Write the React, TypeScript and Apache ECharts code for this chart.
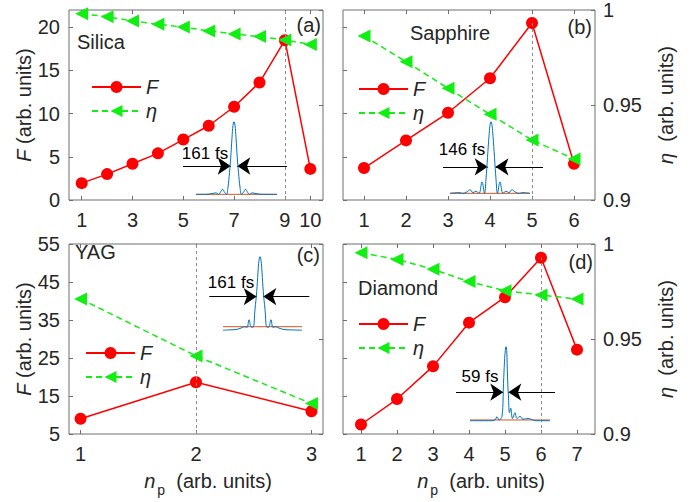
import React, { useEffect, useRef } from 'react';
import * as echarts from 'echarts';

// ---------- data ----------
const nSilica = [1, 2, 3, 4, 5, 6, 7, 8, 9, 10];
const fSilica = [1.95, 3.0, 4.2, 5.4, 7.0, 8.6, 10.8, 13.6, 18.5, 3.6];
const etaSilica = [0.998, 0.9965, 0.9942, 0.9925, 0.991, 0.989, 0.9874, 0.986, 0.9842, 0.9819];

const nSapphire = [1, 2, 3, 4, 5, 6];
const fSapphire = [3.7, 6.9, 10.1, 14.1, 20.5, 4.2];
const etaSapphire = [0.9863, 0.9728, 0.9588, 0.9451, 0.9316, 0.9216];

const nYag = [1, 2, 3];
const fYag = [9.0, 18.6, 11.0];
const etaYag = [0.9711, 0.9411, 0.916];

const nDiamond = [1, 2, 3, 4, 5, 6, 7];
const fDiamond = [7.5, 14.2, 22.8, 34.3, 41.0, 51.4, 27.2];
const etaDiamond = [0.9954, 0.9919, 0.9867, 0.9802, 0.9754, 0.9732, 0.971];

const xTicksSilica = [1, 3, 5, 7, 9, 10];
const xTicksSapphire = [1, 2, 3, 4, 5, 6];
const xTicksYag = [1, 2, 3];
const xTicksDiamond = [1, 2, 3, 4, 5, 6, 7];
const fTicksTop = [0, 5, 10, 15, 20];
const fTicksBottom = [5, 15, 25, 35, 45, 55];
const etaTicks = [0.9, 0.95, 1];

// inset pulses (time relative to peak, normalized intensity)
const pulseSilicaT = [-38, -28, -22, -18, -15.5, -13.5, -11.5, -9.5, -7.5, -6, -4.5, -3.3, -2, -1, 0, 1, 2, 3.3, 4.5, 6, 7.5, 9.5, 11.5, 13.5, 15.5, 18, 22, 28, 43];
const pulseSilicaI = [0, 0, 0.01, 0.02, 0, 0.03, 0.07, 0.03, 0, 0.1, 0.3, 0.5, 0.78, 0.95, 1, 0.95, 0.78, 0.5, 0.3, 0.1, 0, 0.03, 0.07, 0.03, 0, 0.02, 0.01, 0, 0];
const pulseSapphireT = [-41, -32, -28, -24, -21, -18, -15, -12, -9, -6.5, -5, -3.5, -2, -1, 0, 1, 2, 3.5, 5, 6.5, 9, 12, 15, 18, 21, 24, 28, 32, 39];
const pulseSapphireI = [0, 0.01, 0, 0.02, 0.05, 0.01, 0.03, 0, 0.16, 0, 0.2, 0.5, 0.8, 0.95, 1, 0.95, 0.8, 0.5, 0.2, 0, 0.16, 0, 0.03, 0.01, 0.05, 0.02, 0, 0.01, 0];
const pulseYagT = [-37, -30, -24, -19, -15.5, -13, -11, -9, -7, -5, -3.3, -2, -1, 0, 1, 2, 3.3, 5, 7, 9, 11, 13, 15.5, 19, 24, 30, 42];
const pulseYagI = [-0.05, -0.045, -0.04, -0.02, 0, -0.01, 0.1, 0, -0.01, 0.25, 0.5, 0.78, 0.95, 1, 0.95, 0.78, 0.5, 0.25, -0.01, 0, 0.1, -0.01, 0, -0.02, -0.04, -0.045, -0.05];
const pulseDiamondT = [-36, -25, -15, -11, -9, -7, -4, -2.5, -1.5, -0.7, 0, 0.7, 1.5, 2.5, 3.5, 4.7, 6.5, 9, 11, 14, 17, 22, 30, 44];
const pulseDiamondI = [-0.01, -0.01, -0.01, 0, 0.045, 0, 0.05, 0.5, 0.8, 0.95, 1, 0.95, 0.6, 0.3, 0.1, 0.16, 0.02, 0.1, 0.02, 0.05, 0.01, 0.02, -0.01, -0.01];

const baseSilica = [-38, 43];
const baseSapphire = [-41, 39];
const baseYag = [-37, 42];
const baseDiamond = [-36, 44];

const fwhmLabels = ['161 fs', '146 fs', '161 fs', '59 fs'];
const materials = ['Silica', 'Sapphire', 'YAG', 'Diamond'];
const panelTags = ['(a)', '(b)', '(c)', '(d)'];

// ---------- styles ----------
const FONT = 'Liberation Sans, Arial, Helvetica, sans-serif';
const TXT = '#262626';
const BOX = '#6e6e6e';
const RED = '#ff0000';
const GREEN = '#11ee11';
const TRI = 'path://M0,6L11,0L11,12Z';

const panels = [
  {
    n: nSilica, f: fSilica, eta: etaSilica, xTicks: xTicksSilica, fTicks: fTicksTop,
    grid: { left: 69, top: 10, width: 254, height: 190 },
    xMin: 0.5, xMax: 10.5, fMin: 0, fMax: 22, showF: true, showEta: false, showXName: false,
    vline: { x: 9, full: true }, legend: { left: 91, top: 77 },
    inset: { left: 183, top: 121.7, width: 104, height: 79.9, xMin: -51, xMax: 53, ay: 0.39, hwL: 3.3, hwR: 3.3, t: pulseSilicaT, i: pulseSilicaI, base: baseSilica },
    label: { x: 77, y: 42 }, tag: { x: 321, y: 25 }, fs: { x: 205, y: 153 },
  },
  {
    n: nSapphire, f: fSapphire, eta: etaSapphire, xTicks: xTicksSapphire, fTicks: fTicksTop,
    grid: { left: 343, top: 10, width: 252, height: 190 },
    xMin: 0.5, xMax: 6.5, fMin: 0, fMax: 22, showF: false, showEta: true, showXName: false,
    vline: { x: 5, full: false }, legend: { left: 358, top: 79 },
    inset: { left: 443, top: 121.7, width: 100, height: 78.8, xMin: -48, xMax: 52, ay: 0.37, hwL: 3.3, hwR: 4.5, t: pulseSapphireT, i: pulseSapphireI, base: baseSapphire },
    label: { x: 410, y: 33 }, tag: { x: 592, y: 27 }, fs: { x: 462, y: 149 },
  },
  {
    n: nYag, f: fYag, eta: etaYag, xTicks: xTicksYag, fTicks: fTicksBottom,
    grid: { left: 69, top: 244, width: 254, height: 190 },
    xMin: 0.9, xMax: 3.1, fMin: 5, fMax: 55, showF: true, showEta: false, showXName: true,
    vline: { x: 2, full: true }, legend: { left: 85, top: 343 },
    inset: { left: 209.3, top: 256.7, width: 100, height: 77, xMin: -50.7, xMax: 49.3, ay: 0.43, hwL: 3.3, hwR: 3.3, t: pulseYagT, i: pulseYagI, base: baseYag },
    label: { x: 75, y: 252 }, tag: { x: 320, y: 255 }, fs: { x: 231, y: 282 },
  },
  {
    n: nDiamond, f: fDiamond, eta: etaDiamond, xTicks: xTicksDiamond, fTicks: fTicksBottom,
    grid: { left: 343, top: 244, width: 252, height: 190 },
    xMin: 0.5, xMax: 7.5, fMin: 5, fMax: 55, showF: false, showEta: true, showXName: true,
    vline: { x: 6, full: false }, legend: { left: 358, top: 314 },
    inset: { left: 456, top: 346.7, width: 99, height: 80.6, xMin: -50, xMax: 49, ay: 0.38, hwL: 2.7, hwR: 2.3, t: pulseDiamondT, i: pulseDiamondI, base: baseDiamond },
    label: { x: 358, y: 288 }, tag: { x: 593, y: 262 }, fs: { x: 480, y: 376 },
  },
];

function buildOption() {
  const grid: any[] = [];
  const xAxis: any[] = [];
  const yAxis: any[] = [];
  const series: any[] = [];
  const legend: any[] = [];
  const graphic: any[] = [];
  const tickStyle = { lineStyle: { color: BOX, width: 1 } };
  const labelStyle = { color: TXT, fontSize: 20, fontFamily: FONT };

  panels.forEach((p, i) => {
    grid[i] = { ...p.grid, show: true, borderColor: BOX, borderWidth: 1, backgroundColor: 'transparent', containLabel: false };
    xAxis[2 * i] = {
      type: 'value', gridIndex: i, position: 'bottom', min: p.xMin, max: p.xMax,
      axisLine: { show: false }, splitLine: { show: false },
      axisTick: { show: true, inside: true, length: 4, customValues: p.xTicks, ...tickStyle },
      axisLabel: { show: true, customValues: p.xTicks, margin: 10, ...labelStyle },
      name: p.showXName ? '{i|n}{s|p}{r|  (arb. units)}' : '',
      nameLocation: 'middle', nameGap: 31,
      nameTextStyle: {
        ...labelStyle, padding: [0, 0, 0, 24],
        rich: {
          i: { fontStyle: 'italic', fontSize: 20, fontFamily: FONT, color: TXT },
          s: { fontSize: 14, fontFamily: FONT, color: TXT, padding: [18, 0, 0, 2] },
          r: { fontSize: 20, fontFamily: FONT, color: TXT },
        },
      },
    };
    xAxis[2 * i + 1] = {
      type: 'value', gridIndex: i, position: 'top', min: p.xMin, max: p.xMax,
      axisLine: { show: false }, splitLine: { show: false },
      axisTick: { show: true, inside: true, length: 4, customValues: p.xTicks, ...tickStyle },
      axisLabel: { show: false },
    };
    yAxis[2 * i] = {
      type: 'value', gridIndex: i, position: 'left', min: p.fMin, max: p.fMax,
      axisLine: { show: false }, splitLine: { show: false },
      axisTick: { show: true, inside: true, length: 4, customValues: p.fTicks, ...tickStyle },
      axisLabel: { show: p.showF, customValues: p.fTicks, margin: 9, ...labelStyle },
      name: p.showF ? '{i|F} (arb. units)' : '', nameLocation: 'middle', nameGap: 31,
      nameTextStyle: { ...labelStyle, rich: { i: { fontStyle: 'italic', fontSize: 20, fontFamily: FONT, color: TXT } } },
    };
    yAxis[2 * i + 1] = {
      type: 'value', gridIndex: i, position: 'right', min: 0.9, max: 1,
      axisLine: { show: false }, splitLine: { show: false },
      axisTick: { show: true, inside: true, length: 4, customValues: etaTicks, ...tickStyle },
      axisLabel: { show: p.showEta, customValues: etaTicks, margin: 8, ...labelStyle },
      name: p.showEta ? '{i|η}  (arb. units)' : '', nameLocation: 'middle', nameGap: 61,
      nameTextStyle: { ...labelStyle, rich: { i: { fontStyle: 'italic', fontSize: 20, fontFamily: FONT, color: TXT } } },
    };

    const vIdx = p.n.indexOf(p.vline.x);
    const vData = p.vline.full
      ? [{ xAxis: p.vline.x }]
      : [[{ coord: [p.vline.x, p.fMin] }, { coord: [p.vline.x, p.f[vIdx]] }]];

    series.push({
      type: 'line', name: 'F', xAxisIndex: 2 * i, yAxisIndex: 2 * i,
      data: p.n.map((x, k) => [x, p.f[k]]),
      symbol: 'circle', symbolSize: 12,
      lineStyle: { color: RED, width: 1.5 }, itemStyle: { color: RED },
      z: 2,
      markLine: {
        silent: true, symbol: ['none', 'none'], label: { show: false },
        lineStyle: { color: '#8c8c8c', width: 1, type: [3, 3] },
        data: vData,
      },
    });
    series.push({
      type: 'line', name: 'η', xAxisIndex: 2 * i, yAxisIndex: 2 * i + 1,
      data: p.n.map((x, k) => [x, p.eta[k]]),
      symbol: TRI, symbolSize: 13,
      lineStyle: { color: GREEN, width: 1.5, type: [6, 4] }, itemStyle: { color: GREEN },
      z: 3,
    });

    legend.push({
      left: p.legend.left, top: p.legend.top, orient: 'vertical', padding: 0,
      itemWidth: 49, itemHeight: 15, itemGap: 4, selectedMode: false,
      textStyle: { fontSize: 20, fontStyle: 'italic', fontFamily: FONT, color: TXT },
      data: ['F', 'η'],
    });

    const g = 4 + i;
    const ins = p.inset;
    grid[g] = { left: ins.left, top: ins.top, width: ins.width, height: ins.height, show: false };
    xAxis[8 + i] = { type: 'value', gridIndex: g, min: ins.xMin, max: ins.xMax, show: false };
    yAxis[8 + i] = { type: 'value', gridIndex: g, min: -0.1, max: 1, show: false };
    series.push({
      type: 'line', xAxisIndex: 8 + i, yAxisIndex: 8 + i, silent: true,
      data: ins.base.map((t) => [t, 0]), symbol: 'none',
      lineStyle: { color: '#D95319', width: 1 }, z: 4,
    });
    series.push({
      type: 'line', xAxisIndex: 8 + i, yAxisIndex: 8 + i, silent: true,
      data: ins.t.map((t, k) => [t, ins.i[k]]), symbol: 'none', smooth: 0.4,
      lineStyle: { color: '#0072BD', width: 1 }, z: 5,
      markLine: {
        silent: true, symbol: ['none', 'arrow'], symbolSize: 13, label: { show: false },
        lineStyle: { color: '#000', width: 1, type: 'solid' },
        itemStyle: { color: '#000' },
        data: [
          [{ coord: [ins.xMin, ins.ay] }, { coord: [-ins.hwL, ins.ay] }],
          [{ coord: [ins.xMax, ins.ay] }, { coord: [ins.hwR, ins.ay] }],
        ],
      },
    });

    graphic.push({
      type: 'text', x: p.label.x, y: p.label.y,
      style: { text: materials[i], fill: TXT, fontSize: 20, fontFamily: FONT, align: 'left', verticalAlign: 'middle' },
    });
    graphic.push({
      type: 'text', x: p.tag.x, y: p.tag.y,
      style: { text: panelTags[i], fill: TXT, fontSize: 20, fontFamily: FONT, align: 'right', verticalAlign: 'middle' },
    });
    graphic.push({
      type: 'text', x: p.fs.x, y: p.fs.y,
      style: { text: fwhmLabels[i], fill: '#000', fontSize: 17, fontFamily: FONT, align: 'center', verticalAlign: 'middle' },
    });
  });

  return {
    animation: false,
    backgroundColor: '#ffffff',
    textStyle: { fontFamily: FONT },
    grid, xAxis, yAxis, series, legend, graphic,
  };
}

export default function App() {
  const ref = useRef<HTMLDivElement>(null);
  useEffect(() => {
    document.body.style.margin = '0';
    if (!ref.current) return;
    const chart = echarts.init(ref.current, undefined, { renderer: 'svg' });
    chart.setOption(buildOption() as any);
    return () => chart.dispose();
  }, []);
  return <div ref={ref} style={{ width: 690, height: 502 }} />;
}
